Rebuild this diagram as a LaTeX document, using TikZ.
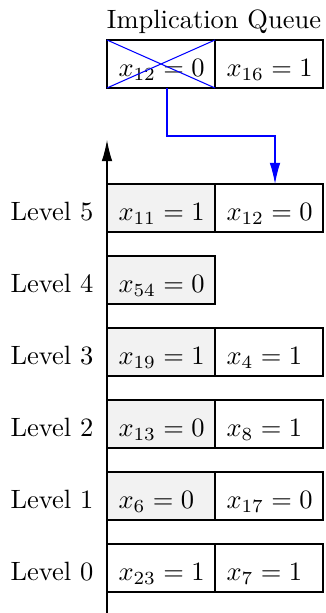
\documentclass[tikz,border=0pt]{standalone}
\usetikzlibrary{arrows.meta,calc}
\begin{document}
\begin{tikzpicture}[x=0.3776pt,y=-0.3776pt,
 cell/.style={draw, rectangle, outer sep=0pt, inner sep=0pt, text width=40.78pt, align=left, execute at begin node={\hspace*{4.35pt}}, minimum width=40.78pt, minimum height=18.12pt, text height=10pt, text depth=0.4pt, anchor=north west},
 gcell/.style={cell, fill=gray!10},
 lab/.style={anchor=base},
 tip/.style={-{Latex[length=8pt,width=4pt]}}]
\useasboundingbox (0,0) rectangle (325,613);
% axis
\coordinate (axb) at (107,613);
\coordinate (axt) at (107,140);
\draw[tip] (axb) -- (axt);
% queue
\node[cell] (q1) at (107,40) {$x_{12}=0$};
\node[cell] (q2) at (215,40) {$x_{16}=1$};
\node[anchor=base] (title) at (214,29) {Implication Queue};
\draw[blue] (q1.north west) -- (q1.south east) (q1.south west) -- (q1.north east);
% levels
\node[gcell] (l5a) at (107,184) {$x_{11}=1$};
\node[cell]  (l5b) at (215,184) {$x_{12}=0$};
\node[gcell] (l4a) at (107,256) {$x_{54}=0$};
\node[gcell] (l3a) at (107,328) {$x_{19}=1$};
\node[cell]  (l3b) at (215,328) {$x_{4}=1$};
\node[gcell] (l2a) at (107,400) {$x_{13}=0$};
\node[cell]  (l2b) at (215,400) {$x_{8}=1$};
\node[gcell] (l1a) at (107,472) {$x_{6}=0$};
\node[cell]  (l1b) at (215,472) {$x_{17}=0$};
\node[cell]  (l0a) at (107,544) {$x_{23}=1$};
\node[cell]  (l0b) at (215,544) {$x_{7}=1$};
% labels
\node[lab] (lab5) at ($(l5a.base)-(109,0)$) {Level 5};
\node[lab] (lab4) at ($(l4a.base)-(109,0)$) {Level 4};
\node[lab] (lab3) at ($(l3a.base)-(109,0)$) {Level 3};
\node[lab] (lab2) at ($(l2a.base)-(109,0)$) {Level 2};
\node[lab] (lab1) at ($(l1a.base)-(109,0)$) {Level 1};
\node[lab] (lab0) at ($(l0a.base)-(109,0)$) {Level 0};
% implication arrow
\coordinate (bs) at ($(q1.south)+(6,0)$);
\coordinate (be) at ($(l5b.north)+(6,0)$);
\draw[blue, tip] (bs) -- ++(0,48) -| (be);
\end{tikzpicture}
\end{document}
